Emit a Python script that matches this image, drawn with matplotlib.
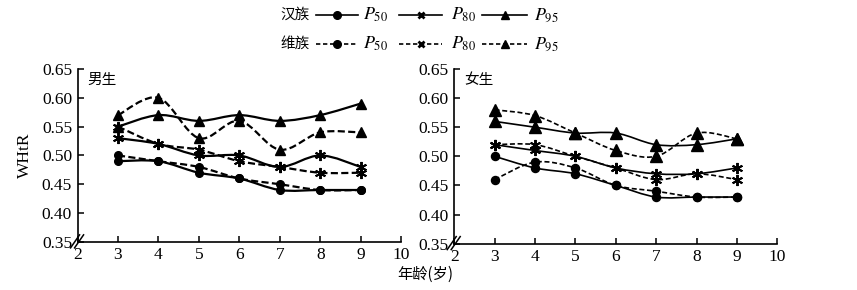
import numpy as np
import matplotlib
matplotlib.use('Agg')
import matplotlib.pyplot as plt
from matplotlib.path import Path
from matplotlib.patches import PathPatch
from matplotlib.lines import Line2D

plt.rcParams['font.family'] = ['Liberation Serif', 'Noto Sans CJK SC']
plt.rcParams['mathtext.fontset'] = 'stix'

age = [3, 4, 5, 6, 7, 8, 9]

# 男生
boy_han_p50 = [0.49, 0.49, 0.47, 0.46, 0.44, 0.44, 0.44]
boy_han_p80 = [0.53, 0.52, 0.50, 0.50, 0.48, 0.50, 0.48]
boy_han_p95 = [0.55, 0.57, 0.56, 0.57, 0.56, 0.57, 0.59]
boy_wei_p50 = [0.50, 0.49, 0.48, 0.46, 0.45, 0.44, 0.44]
boy_wei_p80 = [0.55, 0.52, 0.51, 0.49, 0.48, 0.47, 0.47]
boy_wei_p95 = [0.57, 0.60, 0.53, 0.56, 0.51, 0.54, 0.54]

# 女生
girl_han_p50 = [0.50, 0.48, 0.47, 0.45, 0.43, 0.43, 0.43]
girl_han_p80 = [0.52, 0.51, 0.50, 0.48, 0.47, 0.47, 0.48]
girl_han_p95 = [0.56, 0.55, 0.54, 0.54, 0.52, 0.52, 0.53]
girl_wei_p50 = [0.46, 0.49, 0.48, 0.45, 0.44, 0.43, 0.43]
girl_wei_p80 = [0.52, 0.52, 0.50, 0.48, 0.46, 0.47, 0.46]
girl_wei_p95 = [0.58, 0.57, 0.54, 0.51, 0.50, 0.54, 0.53]

yticks = [0.35, 0.40, 0.45, 0.50, 0.55, 0.60, 0.65]
xticks = [2, 3, 4, 5, 6, 7, 8, 9, 10]

CJK = ['Noto Sans CJK SC', 'Liberation Serif']
ast = (6, 2, 0)   # 6-arm asterisk


def smooth_path(x, y):
    # excel style smoothed line: bezier segments through the points
    x = np.asarray(x, float)
    y = np.asarray(y, float)
    pts = np.column_stack([x, y])
    n = len(pts)
    verts = [pts[0]]
    codes = [Path.MOVETO]
    for i in range(n - 1):
        p0 = pts[max(i - 1, 0)]
        p1 = pts[i]
        p2 = pts[i + 1]
        p3 = pts[min(i + 2, n - 1)]
        c1 = p1 + (p2 - p0) / 6.0
        c2 = p2 - (p3 - p1) / 6.0
        verts += [c1, c2, p2]
        codes += [Path.CURVE4] * 3
    return Path(verts, codes)


def draw(ax, y, marker, ms, dashed, lw, dash):
    ls = (0, dash) if dashed else '-'
    ax.add_patch(PathPatch(smooth_path(age, y), fill=False, edgecolor='black',
                           lw=lw, linestyle=ls, capstyle='butt', zorder=2))
    mew = 1.4 if marker == ast else 1
    ax.plot(age, y, ls='none', marker=marker, ms=ms, color='black',
            mec='black', mew=mew, zorder=3)


def setup(ax, title):
    ax.set_xlim(2, 10)
    ax.set_ylim(0.35, 0.65)
    ax.set_xticks(xticks)
    ax.set_yticks(yticks)
    ax.set_yticklabels(['%.2f' % v for v in yticks])
    for s in ['top', 'right']:
        ax.spines[s].set_visible(False)
    for s in ['left', 'bottom']:
        ax.spines[s].set_linewidth(1.2)
    ax.tick_params(axis='both', direction='in', length=4, width=1.1,
                   labelsize=12.5, colors='black')
    ax.tick_params(axis='x', pad=4)
    ax.tick_params(axis='y', pad=4)
    ax.text(0.03, 0.975, title, transform=ax.transAxes, fontsize=10.5,
            family=CJK, va='top', ha='left')
    # axis break marks
    w = ax.bbox.width
    h = ax.bbox.height
    for off in (-2.0, 2.0):
        ax.plot([(off - 5) / w, (off + 4) / w], [-6 / h, 7 / h],
                transform=ax.transAxes, color='black', lw=1.1,
                clip_on=False, zorder=5)


fig = plt.figure(figsize=(8.57, 2.9), dpi=100)
ax1 = fig.add_axes([0.0905, 0.166, 0.3775, 0.596])
ax2 = fig.add_axes([0.530, 0.160, 0.377, 0.602])

bd = (3.2, 1.5)
draw(ax1, boy_han_p50, 'o', 5.5, False, 1.6, bd)
draw(ax1, boy_han_p80, ast, 8.0, False, 1.6, bd)
draw(ax1, boy_han_p95, '^', 7.5, False, 1.6, bd)
draw(ax1, boy_wei_p50, 'o', 5.5, True, 1.6, bd)
draw(ax1, boy_wei_p80, ast, 8.0, True, 1.6, bd)
draw(ax1, boy_wei_p95, '^', 7.5, True, 1.6, bd)

gd = (3.0, 1.6)
draw(ax2, girl_han_p50, 'o', 5.8, False, 1.2, gd)
draw(ax2, girl_han_p80, ast, 8.0, False, 1.2, gd)
draw(ax2, girl_han_p95, '^', 8.0, False, 1.2, gd)
draw(ax2, girl_wei_p50, 'o', 5.8, True, 1.2, gd)
draw(ax2, girl_wei_p80, ast, 8.0, True, 1.2, gd)
draw(ax2, girl_wei_p95, '^', 8.0, True, 1.2, gd)

setup(ax1, '男生')
setup(ax2, '女生')

ax1.set_ylabel('WHtR', fontsize=12.5, labelpad=6)
fig.text(0.496, 0.055, '年龄(岁)', family=CJK, fontsize=11,
         ha='center', va='center')

# legend
W, H = 857.0, 290.0
rows = [('汉族', '-', 15), ('维族', (0, (2.6, 1.6)), 44)]
cols = [('o', 316, 358, r'$P_{\mathit{50}}$', 363),
        ('x', 399, 442, r'$P_{\mathit{80}}$', 451),
        ('^', 482, 527, r'$P_{\mathit{95}}$', 534)]
for name, ls, yy in rows:
    fy = 1 - yy / H
    fig.text(280 / W, fy, name, family=CJK, fontsize=10.5, ha='left',
             va='center')
    for mk, x0, x1, lab, xt in cols:
        fig.add_artist(Line2D([x0 / W, x1 / W], [fy, fy], color='black',
                              lw=1.2, linestyle=ls, transform=fig.transFigure))
        mew = 2 if mk == 'x' else 1
        ms = 4.5 if mk == 'x' else 5.5
        fig.add_artist(Line2D([(x0 + x1) / 2 / W], [fy], color='black',
                              marker=mk, ms=ms, mew=mew, ls='none',
                              transform=fig.transFigure))
        fig.text(xt / W, fy, lab, fontsize=13, ha='left', va='center')

fig.savefig('out.png', dpi=100)
